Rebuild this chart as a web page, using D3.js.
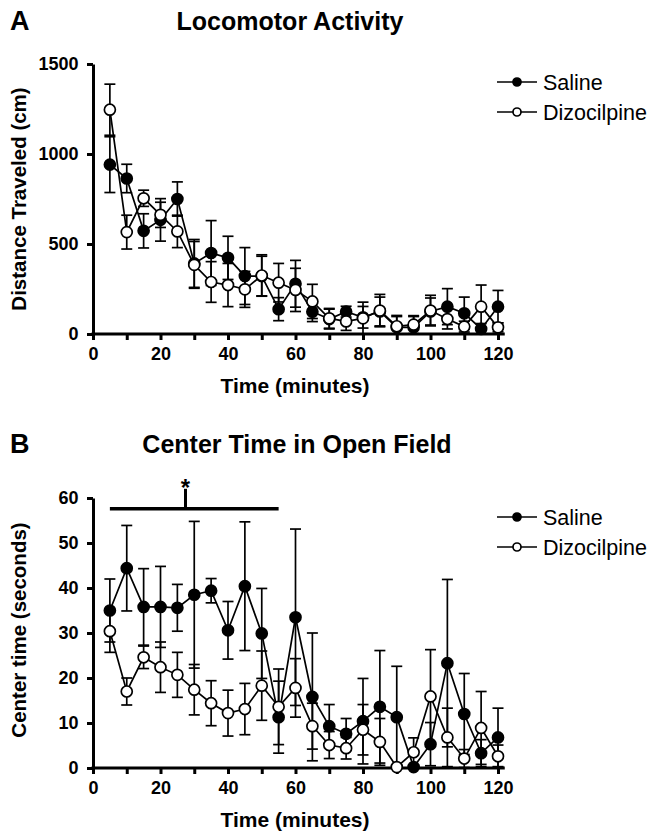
<!DOCTYPE html>
<meta charset="utf-8">
<style>
body { margin: 0; background: #fff; font-family: "Liberation Sans", Arial, sans-serif; }
svg text { fill: #000; }
.axis path, .axis line { stroke: #000; stroke-width: 3; fill: none; }
</style>
<body>
<div id="chart"></div>
<script src="https://d3js.org/d3.v7.min.js"></script>
<script>

// time points (minutes)
const times = [5,10,15,20,25,30,35,40,45,50,55,60,65,70,75,80,85,90,95,100,105,110,115,120];

// panel A: distance traveled (cm), mean and SEM
const locoSaline    = [941,864,573,634,750,392,450,423,322,322,138,279,124,83,124,93,125,37,37,125,152,115,28,152];
const locoSalineErr = [155,79,95,118,95,133,180,120,158,110,64,130,55,55,30,60,80,60,60,75,100,90,30,90];
const locoDizo      = [1246,566,754,662,570,384,289,272,248,325,285,245,181,87,70,87,130,43,52,130,83,41,152,37];
const locoDizoErr   = [142,94,45,70,90,130,113,120,100,115,107,120,95,55,50,90,90,60,50,85,55,30,120,25];

// panel B: center time (seconds), mean and SEM
const centerSaline    = [35.0,44.4,35.8,35.8,35.6,38.5,39.4,30.6,40.4,29.9,11.3,33.5,15.8,9.3,7.6,10.4,13.6,11.3,0.2,5.3,23.3,12.0,3.3,6.8];
const centerSalineErr = [7.0,9.5,8.5,9.0,5.2,16.3,2.7,6.4,14.3,10.0,8.0,19.6,14.2,4.8,3.4,9.5,12.5,11.3,0.5,4.8,18.6,9.0,3.0,6.5];
const centerDizo      = [30.4,17.0,24.6,22.4,20.7,17.4,14.4,12.2,13.1,18.3,13.6,17.8,9.3,5.1,4.4,8.5,5.8,0.2,3.5,15.9,6.8,2.1,8.9,2.6];
const centerDizoErr   = [4.7,3.0,2.5,5.6,5.0,5.6,5.0,5.1,5.7,7.7,8.4,6.5,5.1,3.0,2.4,5.6,5.2,0.5,3.2,10.4,6.5,2.0,8.1,2.5];

const groups = ["Saline", "Dizocilpine"];
const xTicks = [0,10,20,30,40,50,60,70,80,90,100,110,120];
const locoTicks = [0,500,1000,1500];
const centerTicks = [0,10,20,30,40,50,60];

// significance bracket in panel B (minutes / seconds)
const sigFrom = 5, sigTo = 55, sigLevel = 57.6, sigMark = 27.4;

const width = 652, height = 833;

const svg = d3.select("#chart").append("svg")
  .attr("width", width)
  .attr("height", height);

function drawPanel(o) {
  const x = d3.scaleLinear().domain([0, 120]).range([93, 498]);
  const y = d3.scaleLinear().domain([0, o.ymax]).range([o.bottom, o.top]);

  const g = svg.append("g");

  // panel letter and title
  g.append("text").text(o.letter)
    .attr("x", 10).attr("y", o.titleY)
    .attr("font-size", "27px").attr("font-weight", "bold");
  g.append("text").text(o.title)
    .attr("x", o.titleX).attr("y", o.titleY)
    .attr("text-anchor", "middle")
    .attr("font-size", "25px").attr("font-weight", "bold");

  // axes
  g.append("g").attr("class", "axis")
    .attr("transform", `translate(0,${o.bottom})`)
    .call(d3.axisBottom(x).tickValues(xTicks).tickSize(6).tickSizeOuter(0)
      .tickFormat(d => d % 20 === 0 ? d : ""))
    .call(a => a.select(".domain").remove())
    .call(a => a.selectAll("text")
      .attr("dy", "0.95em")
      .attr("font-size", "18px").attr("font-weight", "bold")
      .attr("font-family", "Liberation Sans, Arial, sans-serif"));
  g.append("line")
    .attr("x1", x(0) - 1.5).attr("x2", x(122))
    .attr("y1", o.bottom).attr("y2", o.bottom)
    .attr("stroke", "#000").attr("stroke-width", 3);

  g.append("g").attr("class", "axis")
    .attr("transform", `translate(${x(0)},0)`)
    .call(d3.axisLeft(y).tickValues(o.yTicks).tickSize(6).tickSizeOuter(0)
      .tickFormat(d3.format("d")))
    .call(a => a.selectAll("text")
      .attr("dx", "-0.3em")
      .attr("font-size", "18px").attr("font-weight", "bold")
      .attr("font-family", "Liberation Sans, Arial, sans-serif"));

  // axis titles
  g.append("text").text("Time (minutes)")
    .attr("x", 295).attr("y", o.bottom + 59)
    .attr("text-anchor", "middle")
    .attr("font-size", "21px").attr("font-weight", "bold");
  g.append("text").text(o.ylabel)
    .attr("transform", `translate(26,${o.ylabelY}) rotate(-90)`)
    .attr("text-anchor", "middle")
    .attr("font-size", "20.5px").attr("font-weight", "bold");

  const series = [
    {name: groups[0], mean: o.saline, err: o.salineErr, fill: "#000"},
    {name: groups[1], mean: o.dizo, err: o.dizoErr, fill: "#fff"}
  ];

  const line = d3.line().x((d, i) => x(times[i])).y(d => y(d));

  series.forEach(s => {
    const sg = g.append("g");
    const pts = times.map((t, i) => ({t: t, m: s.mean[i], e: s.err[i]}));

    // error bars
    const eb = sg.selectAll(".eb").data(pts).join("g");
    eb.append("line")
      .attr("x1", d => x(d.t)).attr("x2", d => x(d.t))
      .attr("y1", d => y(d.m + d.e)).attr("y2", d => y(Math.max(0, d.m - d.e)))
      .attr("stroke", "#000").attr("stroke-width", 1.7);
    eb.append("line")
      .attr("x1", d => x(d.t) - 5.5).attr("x2", d => x(d.t) + 5.5)
      .attr("y1", d => y(d.m + d.e)).attr("y2", d => y(d.m + d.e))
      .attr("stroke", "#000").attr("stroke-width", 1.7);
    eb.filter(d => d.m - d.e > 0).append("line")
      .attr("x1", d => x(d.t) - 5.5).attr("x2", d => x(d.t) + 5.5)
      .attr("y1", d => y(d.m - d.e)).attr("y2", d => y(d.m - d.e))
      .attr("stroke", "#000").attr("stroke-width", 1.7);

    sg.append("path")
      .attr("d", line(s.mean))
      .attr("fill", "none").attr("stroke", "#000").attr("stroke-width", 1.7);

    sg.selectAll("circle").data(pts).join("circle")
      .attr("cx", d => x(d.t)).attr("cy", d => y(d.m))
      .attr("r", 5.5)
      .attr("fill", s.fill).attr("stroke", "#000").attr("stroke-width", 1.7);
  });

  // legend
  series.forEach((s, i) => {
    const ly = o.legendY + i * 30;
    g.append("line")
      .attr("x1", 497).attr("x2", 537).attr("y1", ly).attr("y2", ly)
      .attr("stroke", "#000").attr("stroke-width", 1.7);
    g.append("circle")
      .attr("cx", 517).attr("cy", ly).attr("r", 4)
      .attr("fill", s.fill).attr("stroke", "#000").attr("stroke-width", 1.7);
    g.append("text").text(s.name)
      .attr("x", 543).attr("y", ly + 7.5)
      .attr("font-size", "21.5px");
  });

  return {x: x, y: y, g: g};
}

drawPanel({
  letter: "A", title: "Locomotor Activity", titleX: 290, titleY: 30,
  ylabel: "Distance Traveled (cm)", ylabelY: 199,
  ymax: 1500, top: 64, bottom: 334, yTicks: locoTicks,
  saline: locoSaline, salineErr: locoSalineErr,
  dizo: locoDizo, dizoErr: locoDizoErr,
  legendY: 82
});

const pB = drawPanel({
  letter: "B", title: "Center Time in Open Field", titleX: 297, titleY: 453,
  ylabel: "Center time (seconds)", ylabelY: 630,
  ymax: 60, top: 498, bottom: 768, yTicks: centerTicks,
  saline: centerSaline, salineErr: centerSalineErr,
  dizo: centerDizo, dizoErr: centerDizoErr,
  legendY: 517
});

// significance bracket
pB.g.append("line")
  .attr("x1", pB.x(sigFrom)).attr("x2", pB.x(sigTo))
  .attr("y1", pB.y(sigLevel)).attr("y2", pB.y(sigLevel))
  .attr("stroke", "#000").attr("stroke-width", 3.5);
pB.g.append("line")
  .attr("x1", pB.x(sigMark)).attr("x2", pB.x(sigMark))
  .attr("y1", pB.y(sigLevel)).attr("y2", pB.y(sigLevel) - 20)
  .attr("stroke", "#000").attr("stroke-width", 3);
pB.g.append("text").text("*")
  .attr("x", pB.x(sigMark)).attr("y", pB.y(sigLevel) - 13)
  .attr("text-anchor", "middle")
  .attr("font-size", "24px").attr("font-weight", "bold");

</script>
</body>
